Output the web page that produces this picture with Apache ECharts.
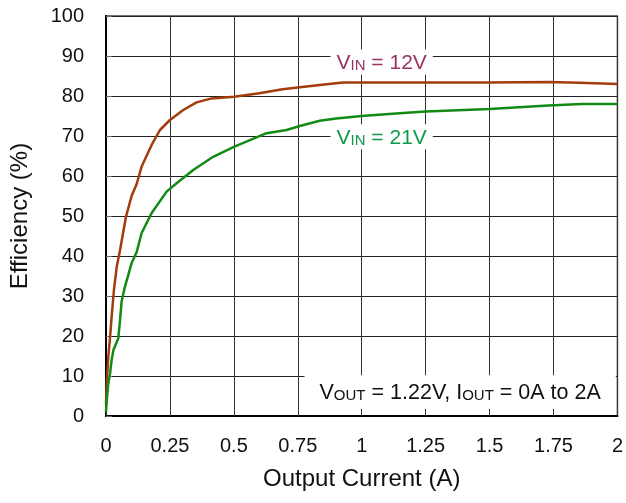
<!DOCTYPE html>
<html>
<head>
<meta charset="utf-8">
<script src="https://cdn.jsdelivr.net/npm/echarts@6/dist/echarts.min.js"></script>
<style>
html,body{margin:0;padding:0;background:#fff;}
#chart{width:626px;height:503px;}
</style>
</head>
<body>
<div id="chart"></div>
<script>
// Output current (A) and efficiency (%)
var current12 = [0, 0.003, 0.009, 0.016, 0.022, 0.031, 0.042, 0.055, 0.078, 0.10, 0.12, 0.139, 0.178, 0.211, 0.25, 0.302, 0.354, 0.413, 0.5, 0.6, 0.69, 0.758, 0.836, 0.927, 1.0, 1.25, 1.5, 1.73, 1.85, 2.0];
var eff12     = [3, 8.2, 14.8, 19.8, 24.8, 31.5, 37.3, 41.5, 49.8, 55, 58, 62.3, 67.7, 71.5, 74, 76.5, 78.4, 79.4, 79.8, 80.7, 81.7, 82.2, 82.75, 83.4, 83.4, 83.4, 83.4, 83.5, 83.3, 83.0];

var current21 = [0, 0.003, 0.009, 0.016, 0.022, 0.029, 0.048, 0.055, 0.061, 0.074, 0.087, 0.100, 0.12, 0.139, 0.178, 0.237, 0.276, 0.341, 0.419, 0.5, 0.628, 0.706, 0.758, 0.836, 0.9, 1.0, 1.148, 1.25, 1.5, 1.73, 1.86, 2.0];
var eff21     = [1, 4, 8.2, 10.7, 14, 16.5, 19.4, 24, 28.6, 32.3, 35.2, 38.2, 41, 45.7, 50.7, 56.1, 58.2, 61.5, 64.8, 67.3, 70.7, 71.5, 72.5, 73.8, 74.4, 75, 75.7, 76.1, 76.75, 77.6, 78, 78];

var seriesNames = ['VIN = 12V', 'VIN = 21V'];
var label12 = {coord: [1.078, 88.5], text: '{b|V}{s|IN}{b| = 12V}'};
var label21 = {coord: [1.078, 69.8], text: '{b|V}{s|IN}{b| = 21V}'};
var noteLabel = {coord: [1.385, 6], text: '{b|V}{s|OUT}{b| = 1.22V, I}{s|OUT}{b| = 0A to 2A}'};

var xTitle = 'Output Current (A)';
var yTitle = 'Efficiency (%)';

var FONT = '"Liberation Sans", Arial, sans-serif';
var c12 = '#A33C0C', c21 = '#128A14';
var t12 = '#993366', t21 = '#0E9A4A';

function zip(a, b) { return a.map(function (v, i) { return [v, b[i]]; }); }

function markLabel(item, color, big, small, pad) {
  return {
    symbol: 'rect', symbolSize: 1,
    itemStyle: {color: 'rgba(0,0,0,0)'},
    data: [{
      coord: item.coord,
      label: {
        show: true, position: 'inside',
        formatter: item.text,
        backgroundColor: '#fff',
        padding: pad,
        rich: {
          b: {fontSize: big, color: color, fontFamily: FONT, verticalAlign: 'bottom', lineHeight: big + 2},
          s: {fontSize: small, color: color, fontFamily: FONT, verticalAlign: 'bottom', lineHeight: big + 2}
        }
      }
    }]
  };
}

var chart = echarts.init(document.getElementById('chart'));
chart.setOption({
  animation: false,
  backgroundColor: '#fff',
  grid: {left: 106, right: 8, top: 16, bottom: 87, show: true, borderColor: '#444', borderWidth: 1.5, backgroundColor: 'transparent'},
  xAxis: {
    type: 'value', min: 0, max: 2, interval: 0.25,
    name: xTitle, nameLocation: 'middle', nameGap: 51,
    nameTextStyle: {fontSize: 24, color: '#111', fontFamily: FONT},
    axisLine: {show: true, lineStyle: {color: '#000', width: 2}},
    axisTick: {show: true, inside: true, length: 6, lineStyle: {color: '#333'}},
    axisLabel: {fontSize: 20, color: '#111', fontFamily: FONT, margin: 20},
    splitLine: {show: true, lineStyle: {color: '#333', width: 1}}
  },
  yAxis: {
    type: 'value', min: 0, max: 100, interval: 10,
    name: yTitle, nameLocation: 'middle', nameGap: 74, nameRotate: 90,
    nameTextStyle: {fontSize: 24, color: '#111', fontFamily: FONT},
    axisLine: {show: true, lineStyle: {color: '#000', width: 2}},
    axisTick: {show: true, inside: true, length: 6, lineStyle: {color: '#666'}},
    axisLabel: {fontSize: 20, color: '#111', fontFamily: FONT, margin: 22},
    splitLine: {show: true, lineStyle: {color: '#222', width: 1}}
  },
  series: [
    {
      name: seriesNames[0], type: 'line', data: zip(current12, eff12),
      showSymbol: false, lineStyle: {color: c12, width: 2.5}, itemStyle: {color: c12},
      markPoint: markLabel(label12, t12, 21, 15, [1, 6, 1, 6])
    },
    {
      name: seriesNames[1], type: 'line', data: zip(current21, eff21),
      showSymbol: false, lineStyle: {color: c21, width: 2.5}, itemStyle: {color: c21},
      markPoint: markLabel(label21, t21, 21, 15, [1, 6, 1, 6])
    },
    {
      name: 'note', type: 'line', data: [],
      markPoint: markLabel(noteLabel, '#111', 21.5, 15, [5, 15, 5, 15])
    }
  ]
});
</script>
</body>
</html>
